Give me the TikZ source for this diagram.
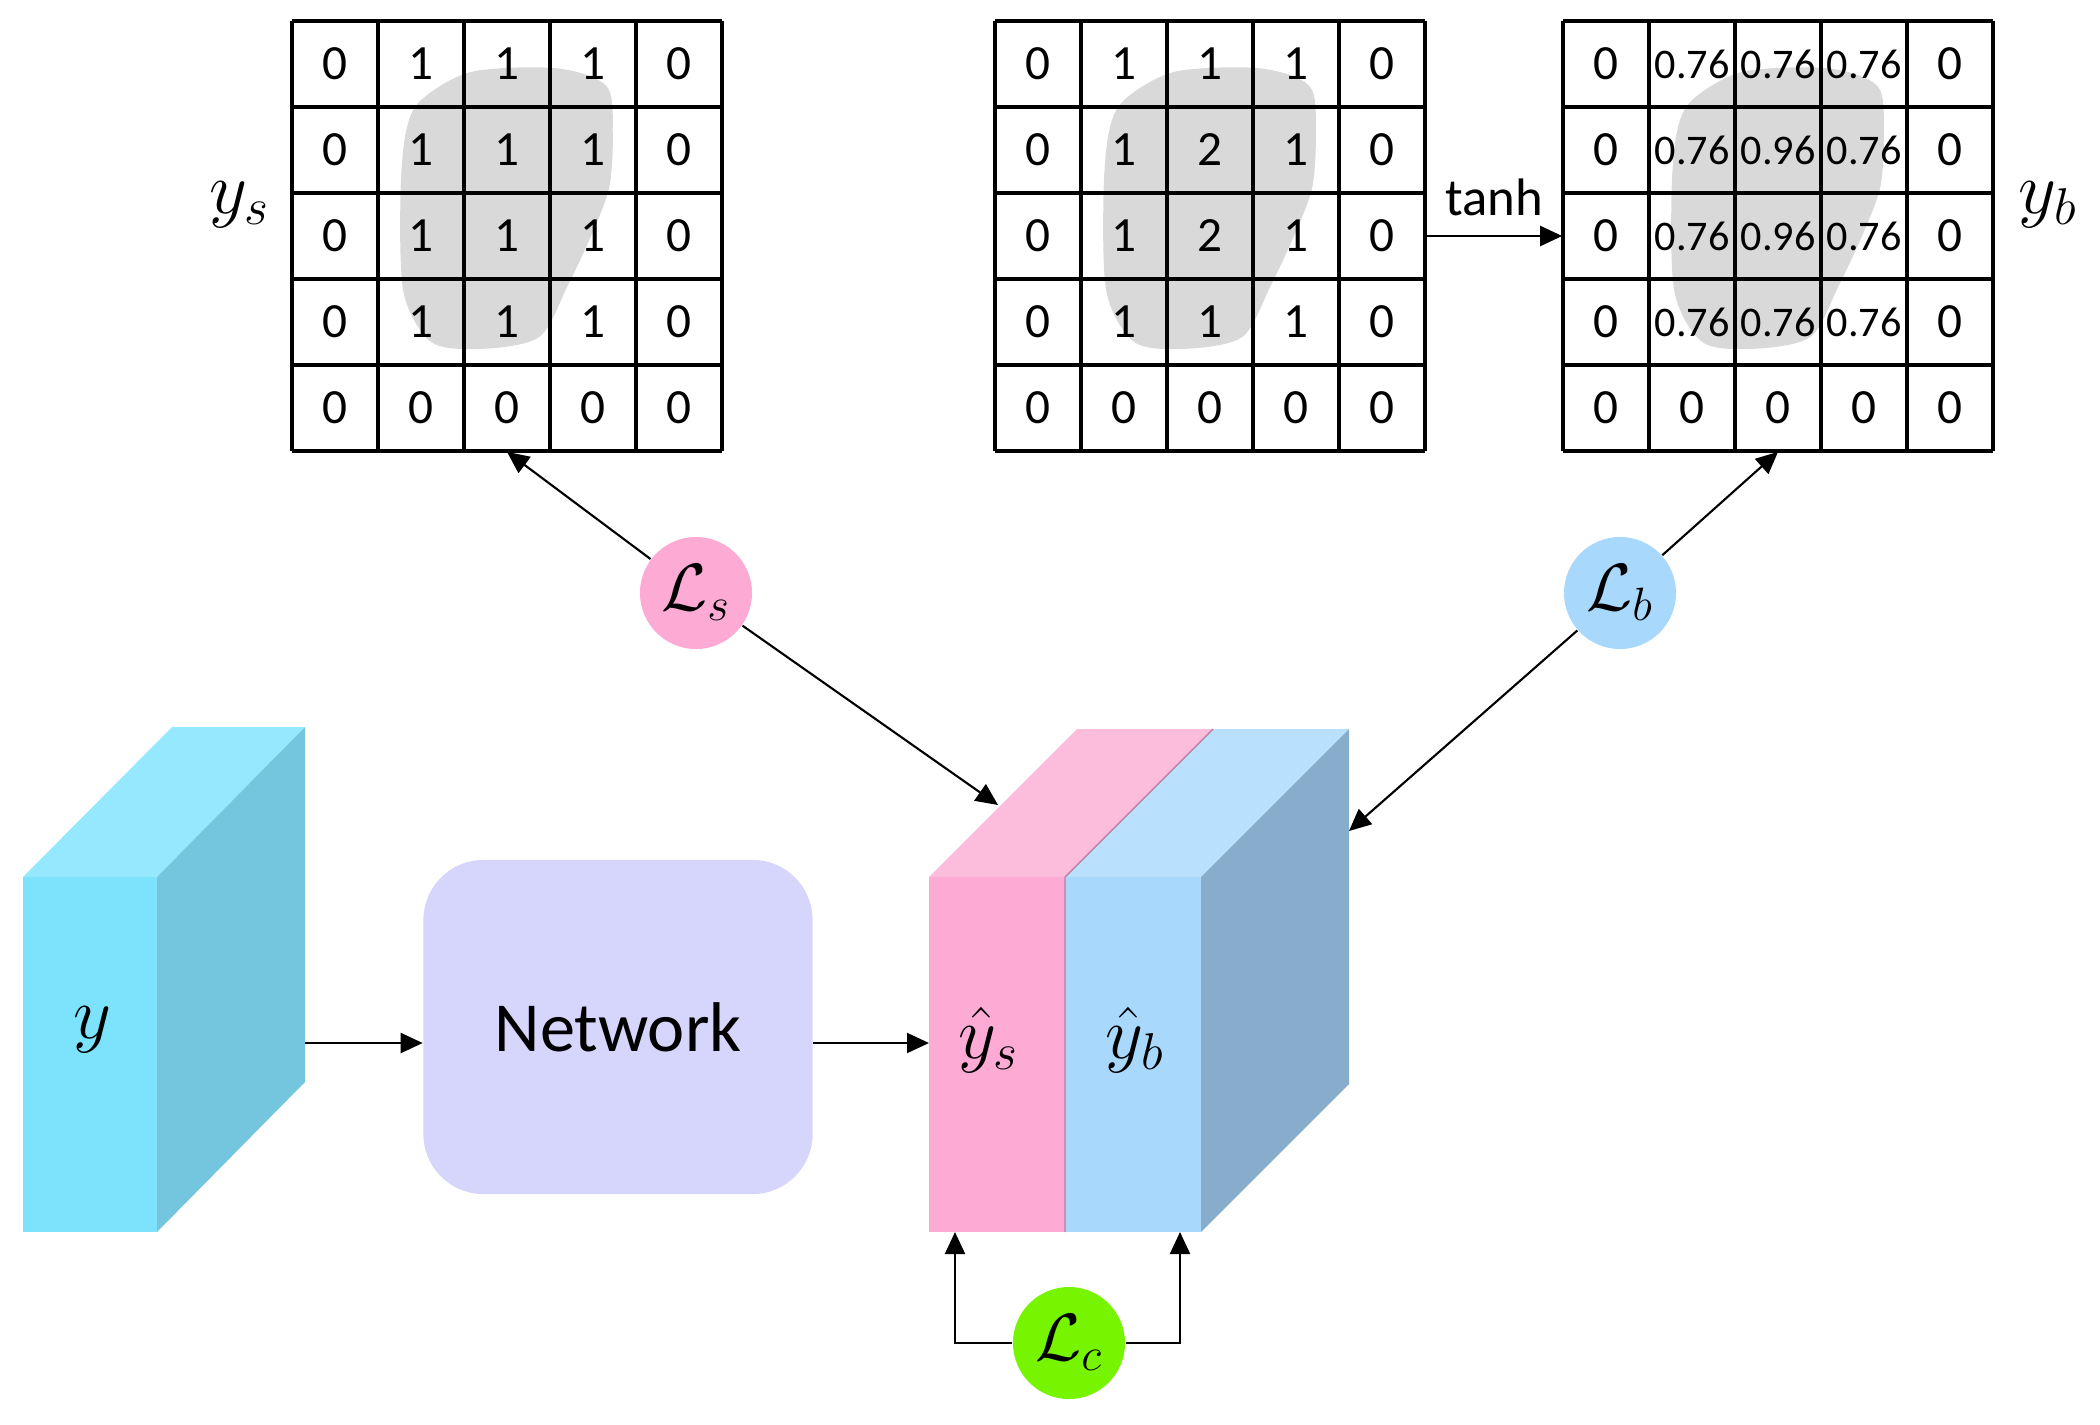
\documentclass[tikz,border=0pt]{standalone}
\usepackage{fix-cm}
\usepackage{fontspec}
\setmainfont{Carlito}
\usetikzlibrary{arrows.meta}
\definecolor{blobgray}{HTML}{D9D9D9}
\definecolor{inFront}{HTML}{7DE3FD}
\definecolor{inTop}{HTML}{95E8FD}
\definecolor{inSide}{HTML}{73C6DE}
\definecolor{netFill}{HTML}{D6D6FD}
\definecolor{pinkFront}{HTML}{FDAAD5}
\definecolor{pinkTop}{HTML}{FCBCDC}
\definecolor{blueFront}{HTML}{A9D8FD}
\definecolor{blueTop}{HTML}{B9E0FD}
\definecolor{outSide}{HTML}{87ACCC}
\definecolor{lossGreen}{HTML}{77F500}
\begin{document}
\begin{tikzpicture}[x=0.01cm, y=-0.01cm, >={Triangle[length=2.2mm, width=2mm]},
	conn/.style={->, line width=0.6pt},
	loss/.style={circle, minimum size=1.12cm, inner sep=0pt, font=\fontsize{19}{23}\selectfont},
	big/.style={font=\fontsize{21}{25}\selectfont},
	cell/.style={font=\fontsize{14}{17}\selectfont},
	smallcell/.style={font=\fontsize{12}{14}\selectfont}]
\useasboundingbox (0,0) rectangle (2100,1424);
% the three 5x5 maps
\foreach \gx/\gname in {292/gs, 995/gm, 1563/gb} {
	\fill[blobgray, shift={(\gx,21)}, scale=86] plot[smooth cycle] coordinates {(1.50,0.92) (2.09,0.59) (3.08,0.55) (3.66,0.76) (3.73,1.31) (3.69,1.93) (3.49,2.47) (3.20,3.09) (2.88,3.67) (2.25,3.81) (1.63,3.74) (1.30,3.17) (1.26,2.08) (1.32,1.31)};
	\foreach \k in {0,...,5} {
		\draw[line width=1pt] (\gx+86*\k,21) -- (\gx+86*\k,451);
		\draw[line width=1pt] (\gx,21+86*\k) -- (\gx+430,21+86*\k);
	}
	\node[minimum size=4.3cm, inner sep=0pt] (\gname) at (\gx+215,236) {};
}
\foreach \row [count=\j from 0] in {{0,1,1,1,0},{0,1,1,1,0},{0,1,1,1,0},{0,1,1,1,0},{0,0,0,0,0}}
	\foreach \v [count=\i from 0] in \row
		\node[cell] at (335+86*\i,64+86*\j) {\v};
\foreach \row [count=\j from 0] in {{0,1,1,1,0},{0,1,2,1,0},{0,1,2,1,0},{0,1,1,1,0},{0,0,0,0,0}}
	\foreach \v [count=\i from 0] in \row
		\node[cell] at (1038+86*\i,64+86*\j) {\v};
\foreach \j in {0,...,3} {
	\node[cell] at (1606,64+86*\j) {0};
	\node[cell] at (1950,64+86*\j) {0};
}
\foreach \i in {0,...,4}
	\node[cell] at (1606+86*\i,408) {0};
\foreach \row [count=\j from 0] in {{0.76,0.76,0.76},{0.76,0.96,0.76},{0.76,0.96,0.76},{0.76,0.76,0.76}}
	\foreach \v [count=\i from 1] in \row
		\node[smallcell] at (1606+86*\i,64+86*\j) {\v};
\node[big] (ysl) at (240,205) {$y_s$};
\node[big] (ybl) at (2048,205) {$y_b$};
\draw[conn] (gm) -- node[above=2pt, font=\fontsize{15}{18}\selectfont] {tanh} (gb);
% input volume
\fill[inFront] (23,877) rectangle (157,1232);
\fill[inTop] (23,877) -- (172,727) -- (305,727) -- (157,877) -- cycle;
\fill[inSide] (157,877) -- (305,727) -- (305,1082) -- (157,1232) -- cycle;
\node[big] (yin) at (92,1030) {$y$};
\coordinate (yout) at (305,1043);
\node[fill=netFill, rounded corners=0.6cm, minimum width=3.89cm, minimum height=3.34cm, font=\fontsize{20}{24}\selectfont] (net) at (618,1027) {Network};
% output volume
\fill[pinkFront] (929,877) rectangle (1065,1232);
\fill[blueFront] (1065,877) rectangle (1201,1232);
\fill[pinkTop] (929,877) -- (1077,729) -- (1213,729) -- (1065,877) -- cycle;
\fill[blueTop] (1065,877) -- (1213,729) -- (1349,729) -- (1201,877) -- cycle;
\fill[outSide] (1201,877) -- (1349,729) -- (1349,1084) -- (1201,1232) -- cycle;
\draw[pinkFront!75!black, line width=0.4pt] (1213,729) -- (1065,877) -- (1065,1232);
\node[big] (yhs) at (989,1040) {$\hat{y}_s$};
\node[big] (yhb) at (1135,1040) {$\hat{y}_b$};
\coordinate (pin) at (929,1043);
\coordinate (lsin) at (998,805);
\coordinate (lbin) at (1349,831);
\coordinate (pbot) at (955,1232);
\coordinate (bbot) at (1180,1232);
% losses
\node[loss, fill=pinkFront] (ls) at (696,593) {$\mathcal{L}_s$};
\node[loss, fill=blueFront] (lb) at (1620,593) {$\mathcal{L}_b$};
\node[loss, fill=lossGreen] (lc) at (1069,1343) {$\mathcal{L}_c$};
\draw[conn] (yout) -- (yout -| net.west);
\draw[conn] (net.east |- pin) -- (pin);
\draw[conn] (ls) -- (gs.south);
\draw[conn] (ls) -- (lsin);
\draw[conn] (lb) -- (gb.south);
\draw[conn] (lb) -- (lbin);
\draw[conn] (lc) -| (pbot);
\draw[conn] (lc) -| (bbot);
\end{tikzpicture}
\end{document}
